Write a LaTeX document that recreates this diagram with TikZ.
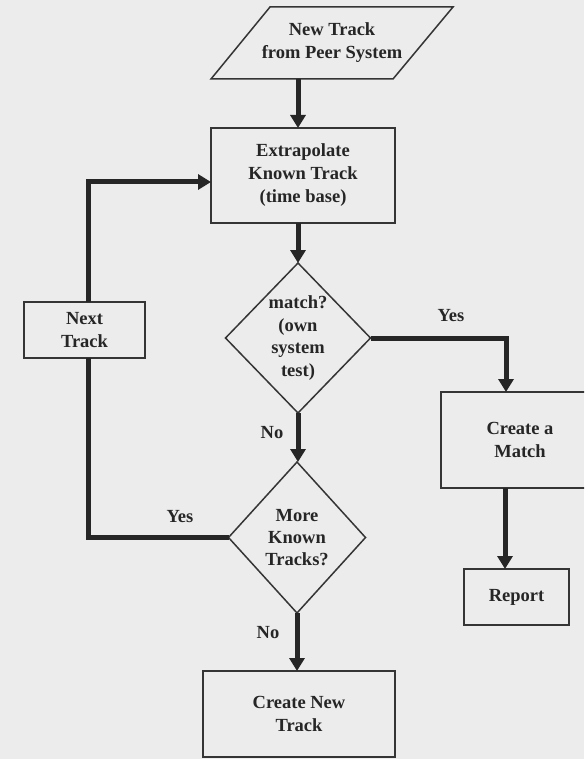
\documentclass[tikz,border=0pt]{standalone}
\usepackage{fontspec}
\setmainfont{Liberation Serif}
\usetikzlibrary{arrows.meta,shapes.geometric,calc}
\definecolor{bg}{HTML}{ECECEC}
\definecolor{ink}{HTML}{262626}
\definecolor{edge}{HTML}{353535}
\tikzset{
  lbl/.style={font=\fontsize{18.5}{23}\selectfont\bfseries, text=ink, align=center},
  box/.style={draw=edge, line width=1.5pt, rectangle, inner sep=0pt, outer sep=0pt, lbl},
  dec/.style={draw=edge, line width=1.5pt, diamond, inner sep=0pt, outer sep=0pt, lbl},
  conn/.style={draw=ink, line width=5pt},
  arr/.style={conn, -{Triangle[length=13pt,width=15pt]}},
}
\begin{document}
\begin{tikzpicture}[x=1pt,y=-1pt]
\fill[bg] (0,0) rectangle (584,759);
\useasboundingbox (0,0) rectangle (584,759);
\clip (0,0) rectangle (584,759);
% parallelogram
\coordinate (p1) at (211,79);
\coordinate (p2) at (393,79);
\coordinate (p3) at (453,7);
\coordinate (p4) at (270,7);
\draw[edge, line width=1.5pt, line join=miter] (p1) -- (p2) -- (p3) -- (p4) -- cycle;
\node[lbl, minimum height=72pt, inner sep=0pt] (peer) at (332,43) {New Track\\from Peer System};
% boxes
\node[box, minimum width=184pt, minimum height=95pt] (ext) at (303,175.5) {Extrapolate\\Known Track\\(time base)};
\node[box, minimum width=121pt, minimum height=56pt] (nt) at (84.5,330) {Next\\Track};
\node[box, minimum width=158pt, minimum height=96pt] (cm) at (520,440) {Create a\\Match};
\node[box, minimum width=105pt, minimum height=56pt] (rep) at (516.5,597) {Report};
\node[box, minimum width=192pt, minimum height=86pt] (cnt) at (299,714) {Create New\\Track};
% decisions
\node[dec, minimum width=145pt, minimum height=150pt, font=\fontsize{18.5}{22.5}\selectfont\bfseries] (d1) at (298,338) {match?\\(own\\system\\test)};
\node[dec, minimum width=137pt, minimum height=151pt, font=\fontsize{18.5}{22}\selectfont\bfseries] (d2) at (297,537.5) {More\\Known\\Tracks?};
% connectors
\draw[arr] (d1 |- peer.south) -- (d1 |- ext.north);
\draw[arr] (d1 |- ext.south) -- (d1.north);
\coordinate (cmin) at ($(cm.north)+(-14,0)$);
\draw[arr] (d1.east) -| (cmin);
\draw[arr] (d1.south) -- (d1.south |- d2.north);
\coordinate (ntb) at ($(nt.south)+(3.5,0)$);
\coordinate (ntt) at ($(nt.north)+(3.5,0)$);
\draw[conn, line join=miter] (d2.west) -| (ntb);
\draw[arr] (ntt) |- ($(ext.west)+(0,6.5)$);
\draw[arr] (d2.south) -- (d2.south |- cnt.north);
\coordinate (cmout) at ($(cm.south)+(-15,0)$);
\draw[arr] (cmout) -- (cmout |- rep.north);
% labels
\node[lbl] (y1) at (451,316) {Yes};
\node[lbl] (n1) at (272,433) {No};
\node[lbl] (y2) at (180,517) {Yes};
\node[lbl] (n2) at (268,633) {No};
\end{tikzpicture}
\end{document}
